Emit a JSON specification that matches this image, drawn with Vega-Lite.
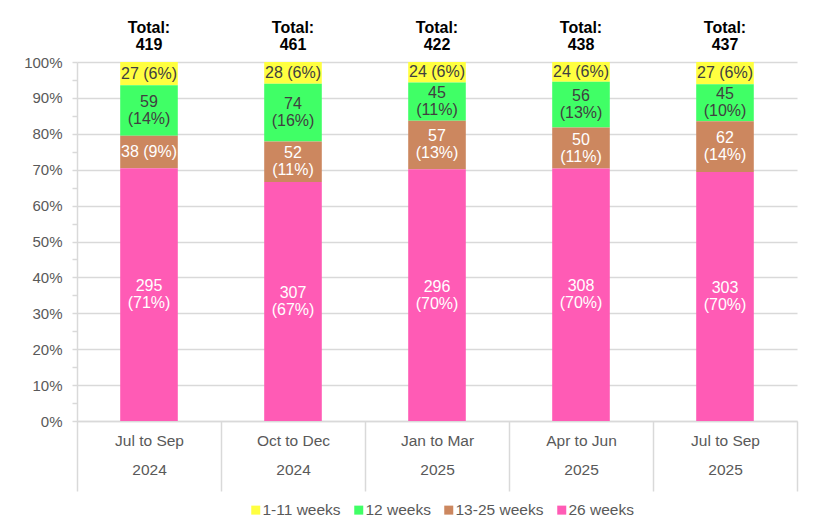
{
  "$schema": "https://vega.github.io/schema/vega-lite/v6.json",
  "width": 720,
  "height": 359,
  "autosize": {"type": "none"},
  "padding": {"left": 77, "top": 62, "right": 37, "bottom": 99},
  "background": "white",
  "config": {"view": {"stroke": null}, "font": "Liberation Sans"},
  "data": {"values": [
    {"period": "Jul to Sep\n2024", "band": "1-11 weeks", "count": 27, "label": "27 (6%)"},
    {"period": "Jul to Sep\n2024", "band": "12 weeks", "count": 59, "label": "59\n(14%)"},
    {"period": "Jul to Sep\n2024", "band": "13-25 weeks", "count": 38, "label": "38 (9%)"},
    {"period": "Jul to Sep\n2024", "band": "26 weeks", "count": 295, "label": "295\n(71%)"},
    {"period": "Oct to Dec\n2024", "band": "1-11 weeks", "count": 28, "label": "28 (6%)"},
    {"period": "Oct to Dec\n2024", "band": "12 weeks", "count": 74, "label": "74\n(16%)"},
    {"period": "Oct to Dec\n2024", "band": "13-25 weeks", "count": 52, "label": "52\n(11%)"},
    {"period": "Oct to Dec\n2024", "band": "26 weeks", "count": 307, "label": "307\n(67%)"},
    {"period": "Jan to Mar\n2025", "band": "1-11 weeks", "count": 24, "label": "24 (6%)"},
    {"period": "Jan to Mar\n2025", "band": "12 weeks", "count": 45, "label": "45\n(11%)"},
    {"period": "Jan to Mar\n2025", "band": "13-25 weeks", "count": 57, "label": "57\n(13%)"},
    {"period": "Jan to Mar\n2025", "band": "26 weeks", "count": 296, "label": "296\n(70%)"},
    {"period": "Apr to Jun\n2025", "band": "1-11 weeks", "count": 24, "label": "24 (6%)"},
    {"period": "Apr to Jun\n2025", "band": "12 weeks", "count": 56, "label": "56\n(13%)"},
    {"period": "Apr to Jun\n2025", "band": "13-25 weeks", "count": 50, "label": "50\n(11%)"},
    {"period": "Apr to Jun\n2025", "band": "26 weeks", "count": 308, "label": "308\n(70%)"},
    {"period": "Jul to Sep\n2025", "band": "1-11 weeks", "count": 27, "label": "27 (6%)"},
    {"period": "Jul to Sep\n2025", "band": "12 weeks", "count": 45, "label": "45\n(10%)"},
    {"period": "Jul to Sep\n2025", "band": "13-25 weeks", "count": 62, "label": "62\n(14%)"},
    {"period": "Jul to Sep\n2025", "band": "26 weeks", "count": 303, "label": "303\n(70%)"}
  ]},
  "transform": [
    {"stack": "count", "groupby": ["period"], "sort": [{"field": "band", "order": "descending"}], "as": ["y0", "y1"], "offset": "normalize"},
    {"calculate": "(datum.y0 + datum.y1) / 2", "as": "mid"}
  ],
  "encoding": {
    "x": {
      "field": "period", "type": "nominal", "sort": null,
      "scale": {"paddingInner": 0, "paddingOuter": 0},
      "axis": {
        "title": null, "labelAngle": 0,
        "labelExpr": "split(datum.label, '\\n')",
        "labelFontSize": 15.5, "labelColor": "#595959", "labelLineHeight": 29,
        "tickBand": "extent", "tickSize": 70, "tickColor": "#D9D9D9", "tickWidth": 1.5,
        "labelPadding": -58,
        "domainColor": "#D9D9D9", "domainWidth": 1.5
      }
    }
  },
  "resolve": {"axis": {"y": "independent"}},
  "layer": [
    {
      "mark": {"type": "bar", "width": {"band": 0.4}},
      "encoding": {
        "y": {
          "field": "y0", "type": "quantitative",
          "scale": {"domain": [0, 1], "nice": false},
          "axis": {
            "title": null,
            "values": [0, 0.05, 0.1, 0.15, 0.2, 0.25, 0.3, 0.35, 0.4, 0.45, 0.5, 0.55, 0.6, 0.65, 0.7, 0.75, 0.8, 0.85, 0.9, 0.95, 1],
            "format": ".0%",
            "labelExpr": "round(datum.value * 100) % 10 === 0 ? datum.label : ''",
            "labelOverlap": false,
            "labelFontSize": 15, "labelColor": "#595959", "labelPadding": 10,
            "tickSize": 5, "tickColor": "#D9D9D9", "tickWidth": 1.5,
            "grid": true, "gridColor": "#D9D9D9", "gridWidth": 1.5,
            "gridOpacity": {"condition": {"test": "round(datum.value * 100) % 10 === 0", "value": 1}, "value": 0},
            "domainColor": "#D9D9D9", "domainWidth": 1.5
          }
        },
        "y2": {"field": "y1"},
        "color": {
          "field": "band", "type": "nominal",
          "scale": {"domain": ["1-11 weeks", "12 weeks", "13-25 weeks", "26 weeks"], "range": ["#FFFF40", "#40FF66", "#CC875F", "#FF5BB5"]},
          "legend": {
            "title": null, "orient": "none", "legendX": 171, "legendY": 440,
            "direction": "horizontal", "symbolType": "square", "symbolSize": 81,
            "symbolStrokeWidth": 0, "labelFontSize": 15.5, "labelColor": "#595959",
            "columnPadding": 10, "labelOffset": -1
          }
        }
      }
    },
    {
      "transform": [{"filter": "indexof(datum.label, '\\n') < 0"}],
      "mark": {"type": "text", "fontSize": 16, "baseline": "middle"},
      "encoding": {
        "y": {"field": "mid", "type": "quantitative", "axis": null},
        "text": {"field": "label"},
        "color": {"condition": {"test": "datum.band === '13-25 weeks' || datum.band === '26 weeks'", "value": "white"}, "value": "#404040"}
      }
    },
    {
      "transform": [{"filter": "indexof(datum.label, '\\n') >= 0"}],
      "mark": {"type": "text", "fontSize": 16, "lineBreak": "\n", "lineHeight": 17, "baseline": "middle", "dy": -8.5},
      "encoding": {
        "y": {"field": "mid", "type": "quantitative", "axis": null},
        "text": {"field": "label"},
        "color": {"condition": {"test": "datum.band === '13-25 weeks' || datum.band === '26 weeks'", "value": "white"}, "value": "#404040"}
      }
    },
    {
      "transform": [
        {"aggregate": [{"op": "sum", "field": "count", "as": "total"}], "groupby": ["period"]},
        {"calculate": "'Total:\\n' + datum.total", "as": "tlabel"}
      ],
      "mark": {"type": "text", "fontSize": 16, "fontWeight": "bold", "lineBreak": "\n", "lineHeight": 17, "baseline": "middle", "dy": -34, "color": "black"},
      "encoding": {
        "y": {"datum": 1, "type": "quantitative", "axis": null},
        "text": {"field": "tlabel"}
      }
    }
  ]
}
